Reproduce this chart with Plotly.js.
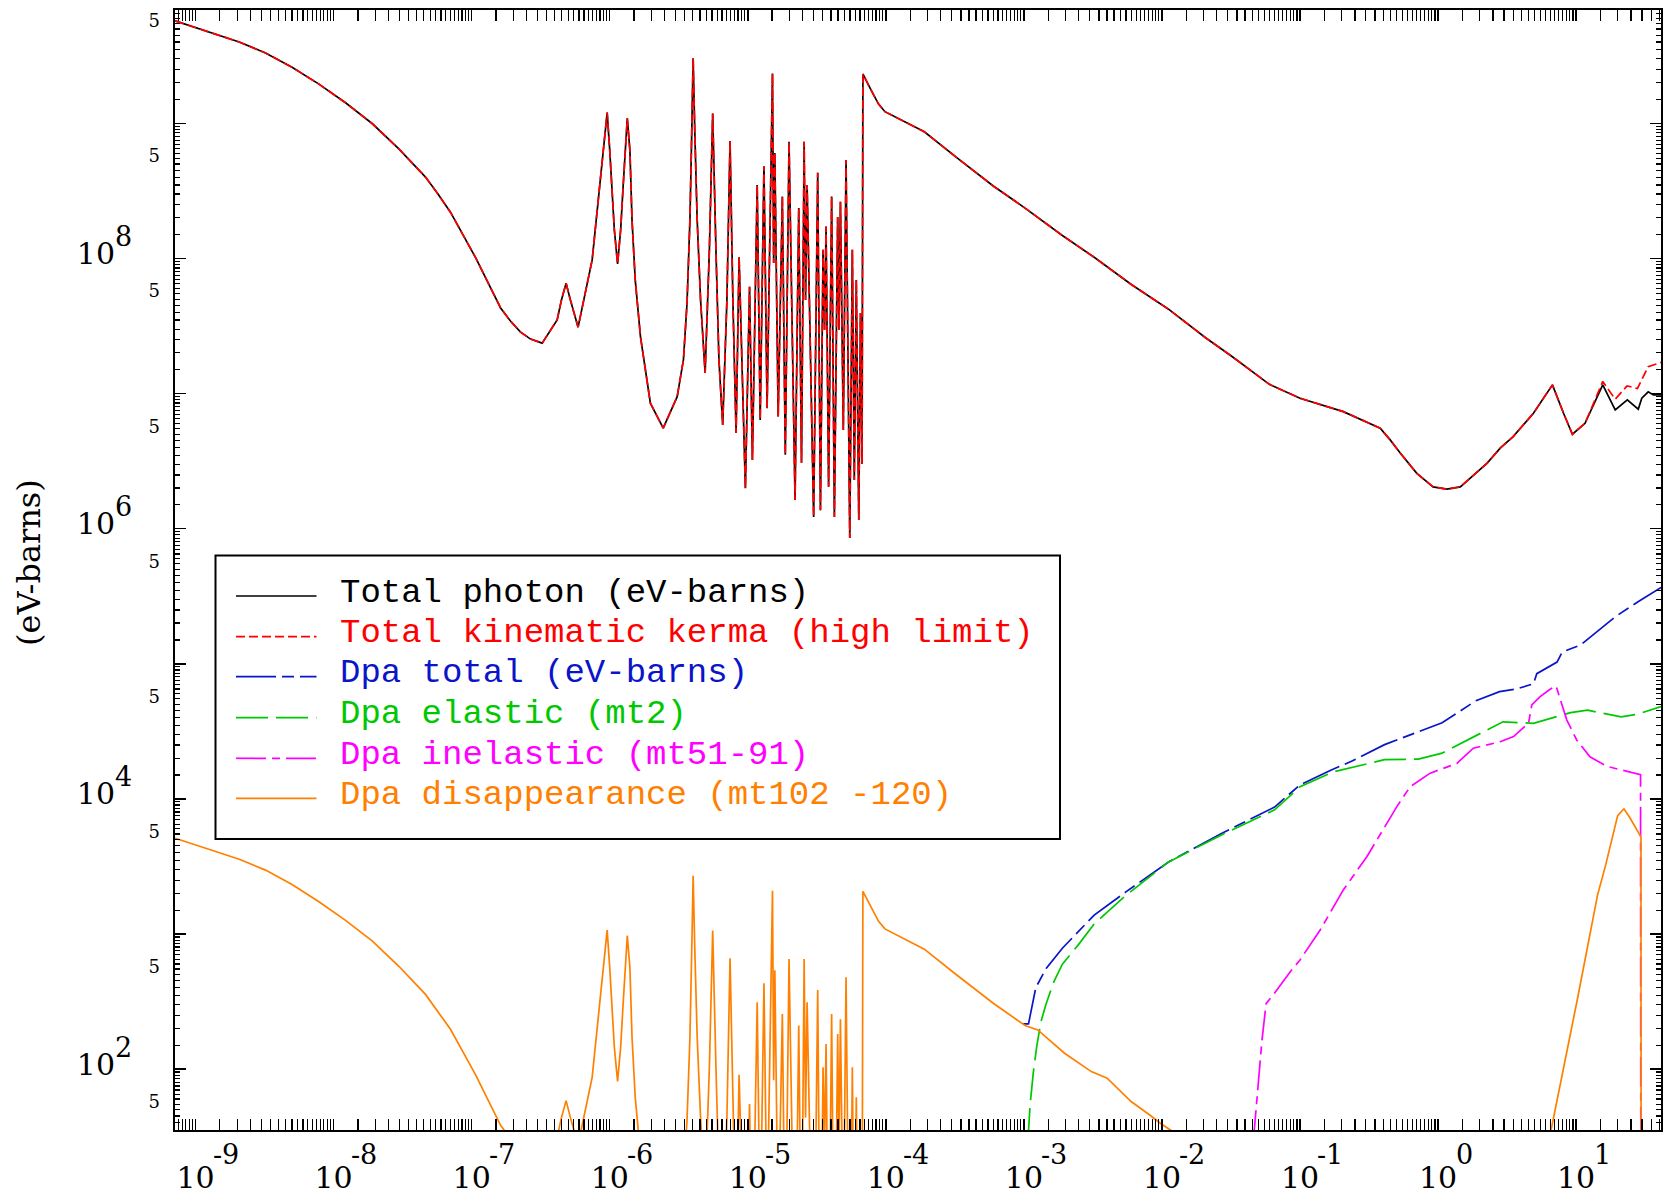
<!DOCTYPE html>
<html><head><meta charset="utf-8">
<script src="https://cdn.plot.ly/plotly-3.0.1.min.js"></script>
<style>html,body{margin:0;padding:0;background:#fff}</style>
</head><body><div id="chart" style="width:1665px;height:1195px"></div>
<script>
// ---------- data (energy in MeV, values in eV-barns) ----------
const photonE = [
 7.11e-10,9.67e-10,1.33e-9,2.07e-9,3.21e-9,5.00e-9,7.78e-9,1.22e-8,1.91e-8,2.98e-8,
 4.63e-8,5.70e-8,7.02e-8,8.65e-8,1.07e-7,1.62e-7,1.91e-7,2.25e-7,
 2.67e-7,3.24e-7,4.16e-7,4.47e-7,4.83e-7,5.19e-7,5.90e-7,7.46e-7,8.57e-7,9.16e-7,
 9.58e-7,1.00e-6,1.04e-6,1.08e-6,1.14e-6,1.20e-6,1.25e-6,1.30e-6,1.34e-6,1.40e-6,
 1.45e-6,1.53e-6,1.67e-6,1.97e-6,2.44e-6,3.08e-6,3.42e-6,3.63e-6,3.81e-6,3.93e-6,
 4.02e-6,4.13e-6,4.30e-6,4.55e-6,4.91e-6,5.27e-6,5.57e-6,5.88e-6,6.18e-6,6.58e-6,
 7.06e-6,7.44e-6,7.80e-6,8.23e-6,8.65e-6,9.61e-6,1.03e-5,1.08e-5,1.17e-5,1.23e-5,
 1.31e-5,1.38e-5,1.51e-5,1.54e-5,1.57e-5,1.66e-5,1.78e-5,1.87e-5,1.99e-5,2.20e-5,
 2.34e-5,2.45e-5,2.56e-5,2.62e-5,2.69e-5,3.00e-5,3.21e-5,3.36e-5,3.51e-5,3.60e-5,
 3.69e-5,3.85e-5,4.05e-5,4.24e-5,4.48e-5,4.58e-5,4.69e-5,4.92e-5,5.15e-5,5.48e-5,
 5.72e-5,5.91e-5,6.11e-5,6.37e-5,6.55e-5,6.73e-5,6.82e-5,7.82e-5,8.86e-5,9.85e-5,
 1.90e-4,3.23e-4,6.00e-4,1.02e-3,1.90e-3,3.23e-3,6.00e-3,1.11e-2,2.07e-2,3.22e-2,
 6.00e-2,0.100,0.206,0.381,0.450,0.532,0.702,0.921,1.16,1.45,1.80,2.27,
 2.82,3.50,4.91,6.74,8.11,9.40,11.6,15.6,19.2,23.5,
 28.2,29.9,33.3,36.3,41.3];
const photonV = [
 5.73e9,5.18e9,4.66e9,4.00e9,3.32e9,2.60e9,1.96e9,1.42e9,9.93e8,6.44e8,
 4.00e8,3.00e8,2.20e8,1.50e8,1.01e8,4.30e7,3.44e7,2.86e7,
 2.53e7,2.36e7,3.51e7,4.92e7,6.55e7,4.92e7,3.10e7,9.75e7,3.80e8,7.53e8,
 1.20e9,6.34e8,3.39e8,1.63e8,9.10e7,1.63e8,3.39e8,6.91e8,1.09e9,6.34e8,
 1.93e8,6.94e7,2.64e7,8.49e6,5.54e6,9.49e6,1.78e7,4.66e7,1.93e8,8.92e8,
 3.03e9,8.92e8,1.93e8,4.92e7,1.42e7,1.16e8,1.18e9,1.16e8,1.78e7,5.86e6,
 4.92e7,7.40e8,4.92e7,5.10e6,1.02e8,1.99e6,6.18e7,3.22e6,3.50e8,6.38e6,
 4.82e8,7.79e6,2.34e9,9.26e7,6.04e8,6.76e6,2.87e8,3.52e6,7.31e8,1.63e6,
 2.36e8,3.07e6,7.31e8,4.92e7,3.50e8,1.22e6,4.31e8,1.37e6,1.16e8,2.96e7,
 1.72e8,2.04e6,2.87e8,1.22e6,2.03e8,2.96e7,2.63e8,5.37e6,5.35e8,8.53e5,
 1.16e8,2.29e6,6.94e7,1.16e6,3.93e7,3.01e6,2.32e9,1.76e9,1.39e9,1.22e9,
 8.66e8,5.62e8,3.44e8,2.36e8,1.48e8,1.02e8,6.41e7,4.23e7,2.59e7,1.88e7,
 1.17e7,9.23e6,7.35e6,5.54e6,4.54e6,3.63e6,2.57e6,2.04e6,1.96e6,2.04e6,2.50e6,3.06e6,
 3.94e6,4.80e6,7.15e6,1.16e7,7.15e6,5.00e6,6.02e6,1.16e7,7.57e6,8.97e6,
 7.66e6,9.23e6,1.03e7,9.77e6,9.77e6];
// kerma follows total photon up to 11.6 MeV, then has its own tail
const kermaSharedUpTo = 11.6;
const kermaTailE = [15.6,19.2,23.4,27.8,33.3,39.3,41.3];
const kermaTailV = [1.23e7,9.07e6,1.14e7,1.09e7,1.58e7,1.67e7,1.70e7];

const dpaTotalE = [9.86e-4,1.08e-3,1.22e-3,1.45e-3,1.90e-3,3.23e-3,5.48e-3,1.11e-2,2.70e-2,6.55e-2,
 0.100,0.167,0.234,0.410,1.07,1.88,2.79,3.70,4.91,5.19,7.28,7.93,10.8,16.0,19.5,28.1,37.3,41.3];
const dpaTotalV = [216,216,401,556,784,1379,2047,3398,5539,8698,
 1.27e4,1.63e4,1.89e4,2.52e4,3.66e4,5.32e4,6.22e4,6.51e4,7.10e4,8.45e4,1.03e5,1.22e5,1.38e5,1.90e5,2.25e5,2.88e5,3.41e5,3.67e5];

const dpaElasticE = [1.07e-3,1.11e-3,1.17e-3,1.24e-3,1.33e-3,1.45e-3,1.64e-3,1.90e-3,2.47e-3,3.23e-3,
 5.48e-3,1.11e-2,2.70e-2,6.55e-2,0.100,0.176,0.410,0.721,1.07,1.50,2.95,4.91,9.12,12.1,21.2,28.1,41.3];
const dpaElasticV = [29.8,54.7,94.2,148,225,305,438,597,827,1188,
 1929,3398,5412,8295,1.23e4,1.59e4,1.95e4,1.97e4,2.18e4,2.60e4,3.72e4,3.62e4,4.35e4,4.53e4,4.04e4,4.24e4,4.83e4];

const dpaInelE = [4.60e-2,4.84e-2,5.30e-2,5.68e-2,6.55e-2,8.53e-2,0.100,0.140,0.206,0.305,
 0.426,0.503,0.628,0.877,1.37,1.80,2.82,3.52,4.52,4.78,5.49,6.48,7.16,7.88,8.57,10.1,12.6,16.7,23.3,29.3,29.5];
const dpaInelV = [29.8,54.7,162,305,366,527,642,1071,2119,3731,
 6594,8761,1.23e4,1.55e4,1.83e4,2.37e4,2.65e4,2.89e4,3.63e4,4.96e4,5.71e4,6.47e4,6.85e4,5.10e4,3.83e4,2.73e4,2.05e4,1.74e4,1.59e4,1.51e4,1];

// disappearance: values on the first photon energies (up to 1.02e-3 MeV), then its own tail
const disappLowV = [
 5.11e3,4.61e3,4.16e3,3.57e3,2.97e3,2.32e3,1.74e3,1.26e3,885,574,
 357,267,197,134,90.2,38.3,30.7,25.4,
 22.5,21.0,31.2,43.7,58.4,43.7,27.6,86.8,339,672,
 1069,565,303,145,81.1,145,303,615,971,565,
 172,61.7,23.5,7.56,4.93,8.46,15.8,41.6,172,795,
 2.70e3,795,172,43.7,12.5,103,1059,103,15.8,5.22,
 43.7,661,43.7,4.53,90.9,1.76,55.1,2.85,312,5.67,
 431,6.93,2.09e3,82.6,539,6.0,256,3.12,653,1.44,
 210,2.71,653,43.8,312,1.07,385,1.21,103,26.4,
 153,1.80,256,1.07,182,26.4,234,4.78,478,0.75,
 103,2.02,61.8,1.02,35.0,2.66,2.07e3,1.57e3,1.24e3,1.09e3,
 772,501,307,210];
const disappTailE = [1.26e-3,1.97e-3,3.08e-3,4.01e-3,5.98e-3,8.16e-3,9.72e-3,1.16e-2,1.48e-2,null,
 6.27,8.38,10.2,14.3,16.4,20.0,22.2,24.4,29.5,29.6];
const disappTailV = [195,131,95.8,85.5,57.5,45.7,39.7,35.2,29.8,null,
 27.5,117,326,1940,3260,7515,8445,7311,5227,1];

const seriesNames = ['Total photon (eV-barns)','Total kinematic kerma (high limit)','Dpa total (eV-barns)',
 'Dpa elastic (mt2)','Dpa inelastic (mt51-91)','Dpa disappearance (mt102 -120)'];
const seriesColors = ['#000000','#ff0000','#0a14c8','#00c800','#ff00ff','#ff8000'];
const seriesDash = ['solid','9px,4px','40px,6px,12px,6px','32px,8px','30px,6px,8px,6px','solid'];

const xDecades = [-9,-8,-7,-6,-5,-4,-3,-2,-1,0,1];
const yDecades = [2,3,4,5,6,7,8,9];
const yLabelled = [2,4,6,8];
const yFives = [1,2,3,4,5,6,7,8,9];

// ---------- build ----------
const nShared = photonE.filter(e=>e<=kermaSharedUpTo).length;
const kermaE = photonE.slice(0,nShared).concat(kermaTailE);
const kermaV = photonV.slice(0,nShared).concat(kermaTailV);
const disappE = photonE.slice(0,disappLowV.length).concat(disappTailE);
const disappV = disappLowV.concat(disappTailV);

const xs = [photonE,kermaE,dpaTotalE,dpaElasticE,dpaInelE,disappE];
const ys = [photonV,kermaV,dpaTotalV,dpaElasticV,dpaInelV,disappV];
const traces = xs.map((x,i)=>({x:x,y:ys[i],type:'scatter',mode:'lines',name:seriesNames[i],
  line:{color:seriesColors[i],width:1.7,dash:seriesDash[i]},connectgaps:false,hoverinfo:'skip'}));
traces.push({x:[1e-9],y:[null],yaxis:'y2',type:'scatter',mode:'lines',showlegend:false,hoverinfo:'skip'});
traces.push({x:[1e-9],y:[null],yaxis:'y3',type:'scatter',mode:'lines',showlegend:false,hoverinfo:'skip'});

const halfSteps = [1.5,2,2.5,3,3.5,4,4.5,5,5.5,6,6.5,7,7.5,8,8.5,9,9.5];
const xMinor=[], yMinor=[];
for(let d=-10; d<=1; d++) halfSteps.forEach(m=>xMinor.push(m*Math.pow(10,d)));
for(let d=1; d<=9; d++) halfSteps.forEach(m=>yMinor.push(m*Math.pow(10,d)));

const W=1665,H=1195,L=175,R=4,T=10,B=65;
const px2x = x => (x-L)/(W-L-R);
const py2y = y => (H-B-y)/(H-T-B);
const XR = [-9.149,1.615];
const YR = [1.549,9.839];

const shapes = [{type:'rect',xref:'paper',yref:'paper',x0:px2x(215.5),x1:px2x(1060),y0:py2y(555.5),y1:py2y(839),
  line:{color:'#000',width:2},fillcolor:'#fff',layer:'above'}];
const annotations = [{xref:'paper',yref:'paper',x:px2x(29),y:py2y(563),text:'(eV-barns)',textangle:-90,
  showarrow:false,xanchor:'center',yanchor:'middle',font:{family:'DejaVu Serif',size:32,color:'#000'}}];
// exponents of the power-of-ten tick labels
xDecades.forEach(d=>annotations.push({xref:'x',yref:'paper',x:d,y:0,text:String(d),showarrow:false,
  xanchor:'left',yanchor:'top',xshift:15.5,yshift:-7,font:{family:'DejaVu Serif',size:27,color:'#000'}}));
yLabelled.forEach(d=>annotations.push({xref:'paper',yref:'y',x:px2x(113),y:d,text:String(d),showarrow:false,
  xanchor:'left',yanchor:'middle',yshift:22,font:{family:'DejaVu Serif',size:27,color:'#000'}}));
// legend
const rowY = [596,636.7,676.7,717.7,758.3,798.3];
seriesNames.forEach((n,i)=>{
  shapes.push({type:'line',xref:'paper',yref:'paper',x0:px2x(236),x1:px2x(316.5),y0:py2y(rowY[i]),y1:py2y(rowY[i]),
    line:{color:seriesColors[i],width:1.7,dash:seriesDash[i]},layer:'above'});
  annotations.push({xref:'paper',yref:'paper',x:px2x(337.5),y:py2y(rowY[i]-3.5),text:n,showarrow:false,
    xanchor:'left',yanchor:'middle',font:{family:'Liberation Mono',size:34,color:seriesColors[i]}});
});

const layout = {
  width:W,height:H,autosize:false,margin:{l:L,r:R,t:T,b:B},
  paper_bgcolor:'#fff',plot_bgcolor:'#fff',showlegend:false,
  xaxis:{type:'log',range:XR,showgrid:false,zeroline:false,showline:true,linecolor:'#000',linewidth:2,
    mirror:'allticks',ticks:'inside',ticklen:11,tickwidth:1.5,tickcolor:'#000',
    tickvals:xDecades.map(d=>Math.pow(10,d)),ticktext:xDecades.map(()=>'10'),
    tickfont:{family:'DejaVu Serif',size:30,color:'#000'},ticklabelstandoff:20,
    minor:{tickvals:xMinor,ticks:'inside',ticklen:5,tickwidth:1.2,tickcolor:'#000'}},
  yaxis:{type:'log',range:YR,showgrid:false,zeroline:false,showline:true,linecolor:'#000',linewidth:2,
    mirror:'allticks',ticks:'inside',ticklen:11,tickwidth:1.5,tickcolor:'#000',
    tickvals:yDecades.map(d=>Math.pow(10,d)),showticklabels:false,
    minor:{tickvals:yMinor,ticks:'inside',ticklen:5,tickwidth:1.2,tickcolor:'#000'}},
  yaxis2:{type:'log',range:YR,overlaying:'y',side:'left',anchor:'x',showgrid:false,zeroline:false,
    showline:false,ticks:'',tickvals:yLabelled.map(d=>Math.pow(10,d)),ticktext:yLabelled.map(()=>'10'),
    tickfont:{family:'DejaVu Serif',size:30,color:'#000'},ticklabelstandoff:59,ticklabelshift:-5},
  yaxis3:{type:'log',range:YR,overlaying:'y',side:'left',anchor:'x',showgrid:false,zeroline:false,
    showline:false,ticks:'',tickvals:yFives.map(d=>5*Math.pow(10,d)),ticktext:yFives.map(()=>'5'),
    tickfont:{family:'DejaVu Serif',size:18,color:'#000'},ticklabelstandoff:14,ticklabelshift:-8},
  shapes:shapes,annotations:annotations
};
Plotly.newPlot('chart',traces,layout,{displayModeBar:false,staticPlot:true});
</script></body></html>
